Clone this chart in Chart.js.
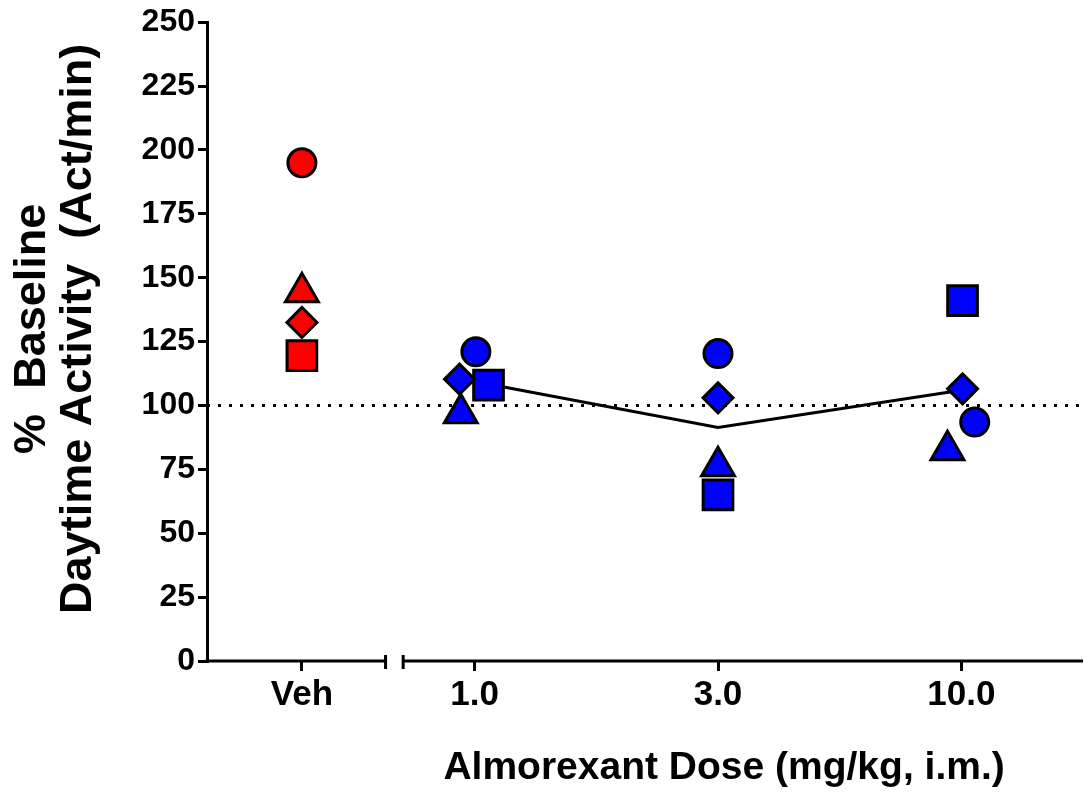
<!DOCTYPE html>
<html>
<head>
<meta charset="utf-8">
<script src="https://cdn.jsdelivr.net/npm/chart.js@4/dist/chart.umd.min.js"></script>
<style>
  body { margin: 0; background: #fff; }
</style>
</head>
<body>
<canvas id="myChart" width="1091" height="795"></canvas>
<script>
// groups along the x axis
const CATEGORIES = ['Veh', '1.0', '3.0', '10.0'];
const GROUP_COLOURS = ['#ff0000', '#0000ff', '#0000ff', '#0000ff'];

// one value per animal (shape), per group
const CIRCLE = [195, 121, 120.3, 93.5];
const TRIANGLE = [144.3, 97, 76.2, 82.5];
const DIAMOND = [132.5, 110.3, 103, 106.5];
const SQUARE = [119.5, 108, 65, 141];

// group means for the dosed groups
const MEAN = [109.4, 91.4, 106];

const BASELINE = 100;

const X_TITLE = 'Almorexant Dose (mg/kg, i.m.)';
const Y_TITLE = ['%  Baseline', 'Daytime Activity  (Act/min)'];

// horizontal spread of overlapping symbols
const CIRCLE_DX = [0, 0.005, 0, 0.055];
const TRIANGLE_DX = [0, -0.057, 0, -0.057];
const DIAMOND_DX = [0, -0.062, 0, 0.005];
const SQUARE_DX = [0, 0.057, 0, 0.005];

// axis layout (x is a plain linear axis with a break after Veh)
const XPOS = [0.39, 1.1, 2.1, 3.1];
const X_MIN = 0, X_MAX = 3.6;
const BREAK_LO = 0.74, BREAK_HI = 0.8;

const FONT = "'Liberation Sans', Arial, sans-serif";

function points(values, dx) {
    return values.map((y, i) => ({ x: XPOS[i] + dx[i], y: y }));
}

function marker(label, values, dx, style, radius) {
    return {
        type: 'scatter',
        label: label,
        data: points(values, dx),
        pointStyle: style,
        pointRadius: radius,
        pointBackgroundColor: GROUP_COLOURS,
        pointBorderColor: '#000',
        pointBorderWidth: 3,
        order: 1,
    };
}

// x axis line with the break marks
const axisBreak = {
    id: 'axisBreak',
    afterDraw(chart) {
        const ctx = chart.ctx;
        const x = chart.scales.x;
        const y0 = chart.chartArea.bottom;
        const lo = x.getPixelForValue(BREAK_LO);
        const hi = x.getPixelForValue(BREAK_HI);
        ctx.save();
        ctx.strokeStyle = '#000';
        ctx.lineWidth = 3;
        ctx.beginPath();
        ctx.moveTo(chart.chartArea.left - 1.5, y0);
        ctx.lineTo(lo, y0);
        ctx.moveTo(hi, y0);
        ctx.lineTo(chart.chartArea.right, y0);
        ctx.moveTo(lo - 1.5, y0 - 6);
        ctx.lineTo(lo - 1.5, y0 + 8);
        ctx.moveTo(hi + 1.5, y0 - 6);
        ctx.lineTo(hi + 1.5, y0 + 8);
        ctx.stroke();
        ctx.restore();
    }
};

// axis titles, placed like the original (not centred on the plot area)
const axisTitles = {
    id: 'axisTitles',
    afterDraw(chart) {
        const ctx = chart.ctx;
        const xs = chart.scales.x;
        const ys = chart.scales.y;
        ctx.save();
        ctx.fillStyle = '#000';
        ctx.textAlign = 'center';
        ctx.textBaseline = 'middle';

        ctx.font = "bold 39px " + FONT;
        ctx.fillText(X_TITLE, xs.getPixelForValue(2.125), xs.bottom - 27);

        ctx.font = "bold 45px " + FONT;
        ctx.translate(ys.left, ys.getPixelForValue(130));
        ctx.rotate(-Math.PI / 2);
        ctx.fillText(Y_TITLE[0], 0, 33);
        ctx.fillText(Y_TITLE[1], 0, 79);
        ctx.restore();
    }
};

const ctx = document.getElementById('myChart').getContext('2d');

new Chart(ctx, {
    data: {
        datasets: [
            {
                type: 'line',
                label: 'baseline',
                data: [{ x: X_MIN, y: BASELINE }, { x: X_MAX, y: BASELINE }],
                borderColor: '#000',
                borderWidth: 3,
                borderDash: [3, 8],
                pointRadius: 0,
                order: 3,
            },
            {
                type: 'line',
                label: 'mean',
                data: MEAN.map((y, i) => ({ x: XPOS[i + 1], y: y })),
                borderColor: '#000',
                borderWidth: 3,
                pointRadius: 0,
                tension: 0,
                order: 2,
            },
            marker('circle', CIRCLE, CIRCLE_DX, 'circle', 14),
            marker('triangle', TRIANGLE, TRIANGLE_DX, 'triangle', 19),
            marker('diamond', DIAMOND, DIAMOND_DX, 'rectRot', 15),
            marker('square', SQUARE, SQUARE_DX, 'rect', 21),
        ]
    },
    options: {
        responsive: false,
        animation: false,
        layout: { autoPadding: false, padding: { top: 21, right: 8, left: 0, bottom: 0 } },
        plugins: {
            legend: { display: false },
            tooltip: { enabled: false },
        },
        scales: {
            x: {
                type: 'linear',
                min: X_MIN,
                max: X_MAX,
                afterBuildTicks: (scale) => {
                    scale.ticks = XPOS.map(v => ({ value: v }));
                },
                afterFit: (scale) => { scale.height = 134; },
                ticks: {
                    autoSkip: false,
                    maxRotation: 0,
                    padding: 3,
                    color: '#000',
                    font: { family: FONT, size: 35, weight: 'bold' },
                    callback: (v, i) => CATEGORIES[i],
                },
                grid: {
                    drawOnChartArea: false,
                    tickLength: 10,
                    lineWidth: 3,
                    color: '#000',
                },
                border: { display: false },
            },
            y: {
                min: 0,
                max: 250,
                afterFit: (scale) => { scale.width = 207; },
                ticks: {
                    stepSize: 25,
                    padding: 3,
                    color: '#000',
                    font: { family: FONT, size: 32, weight: 'bold' },
                },
                grid: {
                    drawOnChartArea: false,
                    tickLength: 9,
                    lineWidth: 3,
                    color: '#000',
                },
                border: { display: true, width: 3, color: '#000' },
            },
        },
    },
    plugins: [axisBreak, axisTitles],
});
</script>
</body>
</html>
